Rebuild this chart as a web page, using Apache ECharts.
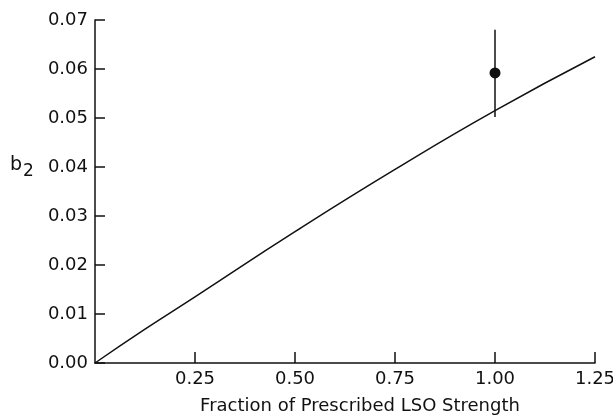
<!DOCTYPE html>
<html>
<head>
<meta charset="utf-8">
<script src="https://cdn.jsdelivr.net/npm/echarts@6/dist/echarts.min.js"></script>
<style>
  html, body { margin: 0; padding: 0; background: #fff; }
  #chart { width: 613px; height: 419px; }
</style>
</head>
<body>
<div id="chart"></div>
<script>
// curve
var curveX = [0, 0.125, 0.25, 0.5, 0.75, 1.0, 1.25];
var curveY = [0, 0.0069, 0.0135, 0.0268, 0.0395, 0.0515, 0.0625];

// measured point with its error bar
var pointX = [1.0];
var pointY = [0.0592];
var errLow = [0.0502];
var errHigh = [0.068];

var font = 'DejaVu Sans';
var ink = '#111';

var myChart = echarts.init(document.getElementById('chart'));

var curveData = curveX.map(function (x, i) { return [x, curveY[i]]; });
var pointData = pointX.map(function (x, i) { return [x, pointY[i]]; });
var barData = [];
pointX.forEach(function (x, i) {
    barData.push([x, errLow[i]], [x, errHigh[i]], null);
});

myChart.setOption({
    animation: false,
    backgroundColor: '#fff',
    grid: { left: 95, right: 18, top: 20, bottom: 56, outerBoundsMode: 'none' },
    xAxis: {
        type: 'value',
        min: 0,
        max: 1.25,
        interval: 0.25,
        axisLine: { lineStyle: { color: ink, width: 1.5 } },
        axisTick: { inside: true, length: 11, lineStyle: { color: ink, width: 1.5 } },
        splitLine: { show: false },
        axisLabel: {
            showMinLabel: false,
            margin: 7,
            color: ink,
            fontFamily: font,
            fontSize: 18,
            formatter: function (v) { return v.toFixed(2); }
        }
    },
    yAxis: {
        type: 'value',
        min: 0,
        max: 0.07,
        interval: 0.01,
        axisLine: { show: true, lineStyle: { color: ink, width: 1.5 } },
        axisTick: { show: true, inside: true, length: 10, lineStyle: { color: ink, width: 1.5 } },
        splitLine: { show: false },
        axisLabel: {
            margin: 7,
            color: ink,
            fontFamily: font,
            fontSize: 18,
            formatter: function (v) { return v.toFixed(2); }
        }
    },
    graphic: [
        {
            type: 'text',
            position: [360, 397],
            style: {
                text: 'Fraction of Prescribed LSO Strength',
                fill: ink,
                font: '18px "' + font + '"',
                align: 'center'
            }
        },
        {
            type: 'text',
            position: [10, 150],
            style: {
                text: '{b|b}{s|2}',
                rich: {
                    b: { fontFamily: font, fontSize: 19, fill: ink, color: ink },
                    s: { fontFamily: font, fontSize: 17, fill: ink, color: ink, padding: [13, 0, 0, 1] }
                }
            }
        }
    ],
    series: [
        {
            type: 'line',
            data: curveData,
            smooth: true,
            showSymbol: false,
            lineStyle: { color: ink, width: 1.5 }
        },
        {
            type: 'line',
            data: barData,
            showSymbol: false,
            connectNulls: false,
            lineStyle: { color: ink, width: 1.5 }
        },
        {
            type: 'scatter',
            data: pointData,
            symbol: 'circle',
            symbolSize: 11,
            itemStyle: { color: ink, opacity: 1 }
        }
    ]
});
</script>
</body>
</html>
